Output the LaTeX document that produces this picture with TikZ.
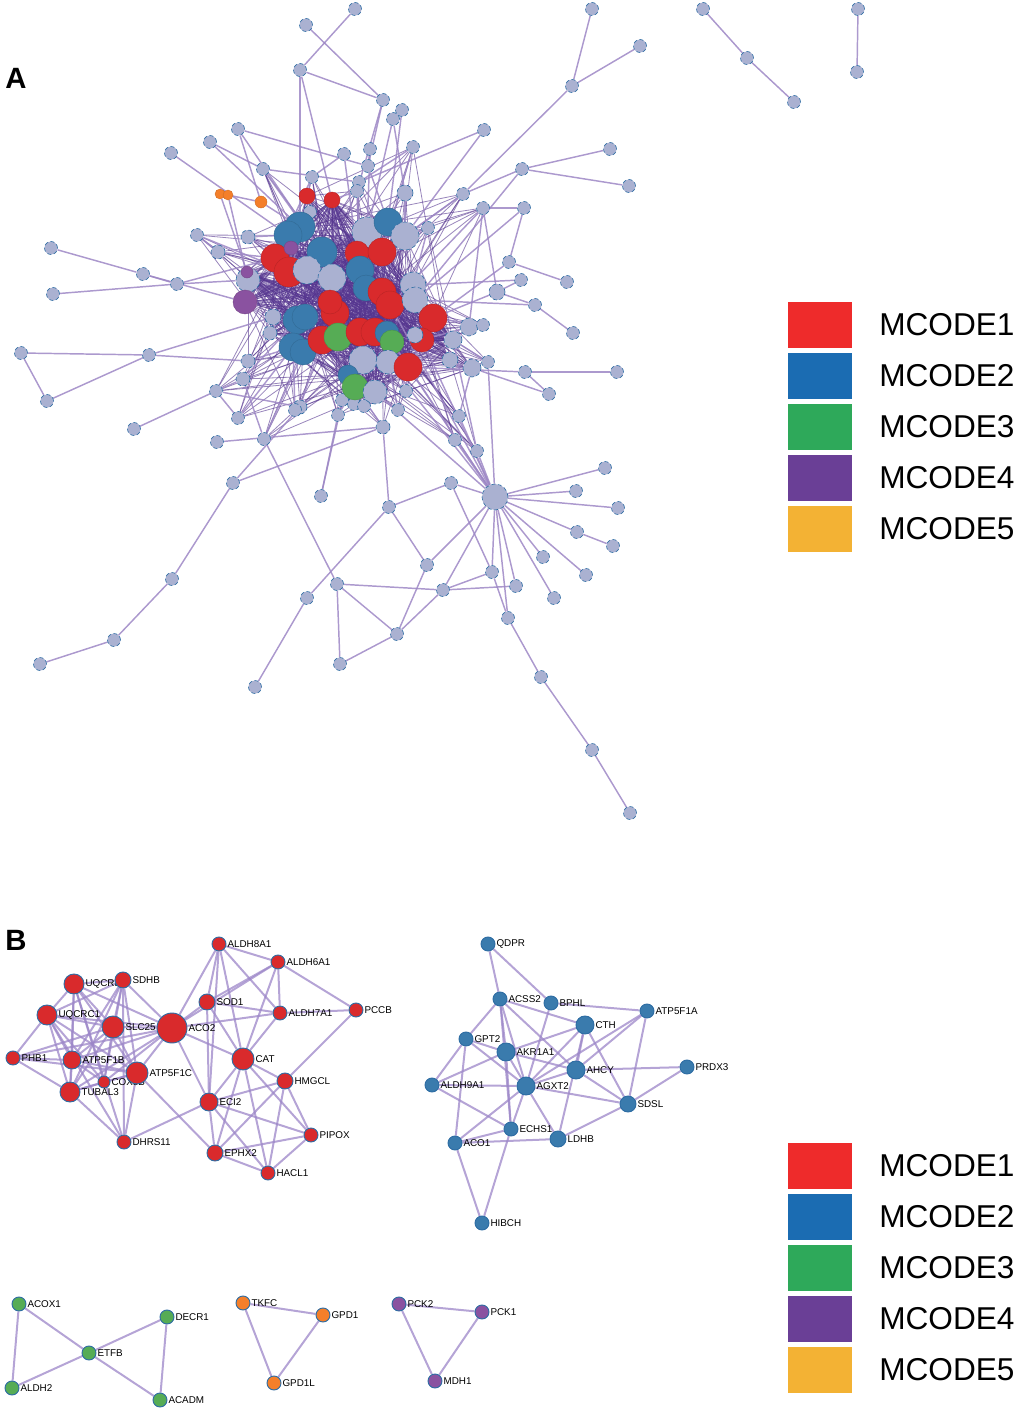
\documentclass[tikz,border=0pt]{standalone}
\usepackage{fontspec}
\setmainfont{Liberation Sans}
\usetikzlibrary{positioning}
\pgfdeclarelayer{edges}
\pgfsetlayers{edges,main}
\definecolor{nred}{HTML}{D92A2C}
\definecolor{nblue}{HTML}{3A7BAD}
\definecolor{ngreen}{HTML}{56AC55}
\definecolor{npurple}{HTML}{8A52A0}
\definecolor{norange}{HTML}{F47F2A}
\definecolor{nlight}{HTML}{AAB1D1}
\definecolor{nrim}{HTML}{2D6CA3}
\definecolor{ledge}{HTML}{9D87C5}
\definecolor{cedge}{HTML}{55358F}
\definecolor{bedge}{HTML}{9C86C8}
\definecolor{lred}{HTML}{EE2B2B}
\definecolor{lblue}{HTML}{1B6CB2}
\definecolor{lgreen}{HTML}{2EA95A}
\definecolor{lpurple}{HTML}{6A3F96}
\definecolor{lorange}{HTML}{F3B234}
\tikzset{
  sz/.style={minimum size={1.5*#1pt}},
  gene/.style={circle, inner sep=0pt, fill=#1, draw=#1!85!black, line width=0.3pt},
  cred/.style={gene=nred},
  cblue/.style={gene=nblue},
  cgreen/.style={gene=ngreen},
  cpurple/.style={gene=npurple},
  corange/.style={gene=norange},
  faint/.style={circle, inner sep=0pt, fill=nlight, draw=nrim, line width=0.45pt, densely dashed},
  member/.style={circle, inner sep=0pt, fill=#1, draw=nrim, line width=0.7pt},
  link/.style={draw=ledge, line width=1.1pt, opacity=0.85},
  core link/.style={draw=cedge, line width=0.6pt, opacity=0.6},
  blink/.style={draw=bedge, line width=1.5pt, opacity=0.75},
  tag/.style={font=\fontsize{7.4}{8}\selectfont, inner sep=0.6pt},
  legbox/.style={minimum width=48.75pt, minimum height=35pt, inner sep=0pt, draw=white, line width=0.5pt},
  legtext/.style={font=\fontsize{23.7}{28}\selectfont, inner sep=0pt},
  panel/.style={font=\bfseries\fontsize{22}{24}\selectfont, inner sep=0pt},
}

\begin{document}
\begin{tikzpicture}[x=0.75pt, y=-0.75pt]
  \useasboundingbox (0,0) rectangle (1020,1413);

  % panel A
  \node[panel] (labA) at (16,78) {A};

  \foreach \n/\x/\y/\r in {p1/355/9/6.5, p2/306/25/6.5, p3/300/70/6.5, p4/383/100/6.5,
      p5/402/110/6.5, p6/393/119/6.5, p7/238/129/6.5, p8/210/142/6.5, p9/171/153/6.5,
      p10/263/169/6.5, p11/344/154/6.5, p12/370/149/6.5, p13/413/147/6.5, p14/484/130/6.5,
      p15/368/166/6.5, p16/312/177/6.5, p17/359/182/6.5, p18/357/191/6.5, p19/405/193/8,
      p20/463/194/6.5, p21/483/208/6.5, p22/310/212/6.5, p23/197/235/6.5, p24/248/237/7,
      p25/218/252/7, p26/51/248/6.5, p27/143/274/6.5, p28/177/284/6.5, p29/53/294/6.5,
      p30/428/228/6.5, p31/592/9/6.5, p32/640/46/6.5, p33/572/86/6.5, p34/703/9/6.5,
      p35/747/58/6.5, p36/794/102/6.5, p37/858/9/6.5, p38/857/72/6.5, p40/610/149/6.5,
      p41/522/169/6.5, p42/629/186/6.5, p45/524/208/6.5, p46/509/262/6.5, p47/567/282/6.5,
      p48/521/280/6.5, p49/497/292/8, p50/535/305/6.5, p51/573/333/6.5, p52/469/327/9,
      p53/483/325/6.5, p54/21/353/6.5, p55/149/355/6.5, p56/47/401/6.5, p57/134/429/6.5,
      p58/216/391/6.5, p59/243/379/7, p60/248/361/7, p61/238/418/6.5, p62/217/442/6.5,
      p63/264/439/6.5, p64/300/407/7, p65/233/483/6.5, p66/321/496/6.5, p67/383/427/7,
      p68/338/415/6.5, p69/398/410/6.5, p70/406/391/6.5, p71/389/507/6.5, p72/451/483/6.5,
      p73/427/565/6.5, p74/337/584/6.5, p75/307/598/6.5, p76/443/590/6.5, p77/397/634/6.5,
      p78/340/664/6.5, p79/255/687/6.5, p80/172/579/6.5, p81/114/640/6.5, p82/40/664/6.5,
      p83/492/572/6.5, p84/459/416/6.5, p85/455/440/6.5, p86/477/451/6.5, p87/617/372/6.5,
      p88/525/372/6.5, p89/549/394/6.5, p90/605/468/6.5, p91/576/491/6.5, p92/618/508/6.5,
      p93/577/532/6.5, p94/613/546/6.5, p95/543/557/6.5, p96/586/575/6.5, p97/554/598/6.5,
      p98/516/586/6.5, p99/508/618/6.5, p100/541/677/6.5, p101/592/750/6.5, p102/630/813/6.5,
      p104/488/362/6.5, p108/354/404/6.5, p109/364/406/6.5, p110/342/400/6.5, p111/295/410/6.5,
      hub/495/497/13}
    \node[faint, sz=\r] (\n) at (\x,\y) {};

  \node[corange, sz=5] (o1) at (220,194) {};
  \node[corange, sz=5] (o2) at (228,195) {};
  \node[corange, sz=6] (o3) at (261,202) {};

  \foreach \x/\y/\s/\r [count=\i] in {307/196/cred/8, 332/200/cred/8, 300/227/cblue/15,
      288/235/cblue/14, 367/232/faint/15, 388/222/cblue/14, 405/236/faint/14, 275/258/cred/14,
      289/272/cred/15, 291/248/cpurple/7, 322/252/cblue/15, 307/270/faint/14, 332/278/faint/14,
      357/253/cred/12, 382/252/cred/14, 360/270/cblue/14, 366/288/cblue/13, 382/292/cred/14,
      390/305/cred/14, 413/285/faint/13, 415/300/faint/13, 248/280/faint/12, 247/272/cpurple/6,
      245/302/cpurple/12, 297/320/cblue/14, 305/317/cblue/13, 335/313/cred/14, 330/302/cred/12,
      293/347/cblue/14, 303/352/cblue/13, 322/340/cred/14, 338/337/cgreen/14, 360/332/cred/14,
      375/332/cred/14, 387/333/cblue/12, 392/342/cgreen/12, 433/318/cred/14, 422/340/cred/12,
      415/335/faint/8, 363/360/faint/14, 388/362/faint/12, 408/367/cred/14, 348/375/cblue/10,
      355/387/cgreen/13, 375/392/faint/12, 273/317/faint/8, 270/333/faint/7, 453/340/faint/9,
      450/360/faint/8, 472/368/faint/9}
    \node[\s, sz=\r] (c\i) at (\x,\y) {};

  \begin{pgfonlayer}{edges}
    \foreach \i in {1,...,50}
      \foreach \j in {1,...,50} {
        \pgfmathtruncatemacro\k{mod(\i*\j+3*\i+\j,3)}
        \ifnum\i<\j \ifnum\k=0 \draw[core link] (c\i) -- (c\j); \fi\fi
      }
    \foreach \p [count=\m] in {p16,p17,p18,p19,p22,p24,p25,p30,p59,p60,p61,p64,p67,p68,
        p69,p70,p84,p85,p86,p104,p108,p109,p110,p111,p20,p21,p13,p10,p23,p58,p63,p52,p53}
      \foreach \i in {1,...,50} {
        \pgfmathtruncatemacro\k{mod(\m*7+\i*3,8)}
        \ifnum\k=0 \draw[core link] (\p) -- (c\i); \fi
      }
    \foreach \a/\b in {p1/p3, p2/p4, p3/p4, p3/c3, p3/c2, p4/p18, p4/p15, p5/c6, p6/c5, p6/p19,
        p7/p15, p7/c11, p8/p10, p8/c3, p9/c4, p10/p17, p10/c11, p11/p16, p11/c14, p12/p15,
        p12/c5, p13/c15, p13/p17, p14/p17, p14/c7, p15/c6, p16/c8, p17/c14, p18/c16, p19/c7,
        p20/p33, p20/p41, p20/c7, p20/c15, p21/p45, p21/p49, p21/p52, p21/c19, p22/c9, p23/c9,
        p23/p25, p24/c4, p24/c12, p25/c8, p26/p27, p27/p28, p27/c24, p28/p29, p28/c22, p28/c8,
        p30/c7, p30/c20, p31/p33, p32/p33, p34/p35, p35/p36, p37/p38, p40/p41, p42/p41, p41/c21,
        p45/p46, p45/c21, p46/p47, p46/c37, p48/p49, p48/c20, p49/c37, p49/p50, p50/p51, p50/c21,
        p52/c38, p52/p53, p53/c37, p54/p55, p54/p56, p56/p55, p55/p60, p55/c46, p57/p58, p58/p59,
        p58/p64, p58/p61, p59/c25, p59/p63, p60/c29, p61/c29, p62/p67, p63/p74, p63/c30, p64/c31,
        p65/p67, p65/p64, p65/p80, p80/p81, p81/p82, p66/p68, p66/c43, p67/c44, p67/p71, p68/c44,
        p69/c41, p70/c42, p71/p72, p71/p73, p71/p75, p72/hub, p72/p83, p73/p77, p73/hub, p74/p76,
        p74/p77, p74/p78, p78/p77, p75/p79, p76/p77, p76/p83, p76/p98, p76/hub, p83/hub, p83/p99,
        p99/hub, p99/p100, p100/p101, p101/p102, p84/c50, p84/hub, p85/hub, p86/hub, p86/c48,
        p87/p88, p88/p89, p88/c42, p89/c50, p90/hub, p91/hub, p92/hub, p93/hub, p93/p94, p95/hub,
        p96/hub, p97/hub, p98/hub, p104/c48, p104/hub, p108/c44, p109/c45, p110/c43, p111/c29,
        hub/c42, hub/c41, hub/c45, hub/c38, hub/c36, hub/c19, o1/o2, o2/o3, o1/c23, o2/c22,
        o3/c3, p7/o3, c1/p16, c2/p18}
      \draw[link] (\a) -- (\b);
  \end{pgfonlayer}

  \foreach \c [count=\i] in {lred,lblue,lgreen,lpurple,lorange} {
    \node[legbox, fill=\c] (legA\i) at (819.5,{274+51*\i}) {};
    \node[legtext, right=20pt of legA\i] (legAt\i) {MCODE\i};
  }

  % panel B
  \node[panel] (labB) at (16,940) {B};

  \node[member=nred, sz=7, label={[tag]right:ALDH8A1}] (aldh8a1) at (219,944) {};
  \node[member=nred, sz=7, label={[tag]right:ALDH6A1}] (aldh6a1) at (278,962) {};
  \node[member=nred, sz=10, label={[tag]right:UQCRB}] (uqcr) at (74,984) {};
  \node[member=nred, sz=8, label={[tag]right:SDHB}] (sdhb) at (123,980) {};
  \node[member=nred, sz=10, label={[tag]right:UQCRC1}] (uqcrc1) at (47,1015) {};
  \node[member=nred, sz=11, label={[tag]right:SLC25}] (slc25) at (113,1027) {};
  \node[member=nred, sz=15, label={[tag]right:ACO2}] (aco2) at (172,1028) {};
  \node[member=nred, sz=8, label={[tag]right:SOD1}] (sod1) at (207,1002) {};
  \node[member=nred, sz=7, label={[tag]right:ALDH7A1}] (aldh7a1) at (280,1013) {};
  \node[member=nred, sz=7, label={[tag]right:PCCB}] (pccb) at (356,1010) {};
  \node[member=nred, sz=7, label={[tag]right:PHB1}] (phb1) at (13,1058) {};
  \node[member=nred, sz=9, label={[tag]right:ATP5F1B}] (atp5f1b) at (72,1060) {};
  \node[member=nred, sz=6, label={[tag]right:COX5B}] (cox) at (104,1082) {};
  \node[member=nred, sz=11, label={[tag]right:ATP5F1C}] (atp5f1c) at (137,1073) {};
  \node[member=nred, sz=10, label={[tag]right:TUBAL3}] (tubal3) at (70,1092) {};
  \node[member=nred, sz=7, label={[tag]right:DHRS11}] (dhrs11) at (124,1142) {};
  \node[member=nred, sz=11, label={[tag]right:CAT}] (cat) at (243,1059) {};
  \node[member=nred, sz=8, label={[tag]right:HMGCL}] (hmgcl) at (285,1081) {};
  \node[member=nred, sz=9, label={[tag]right:ECI2}] (eci2) at (209,1102) {};
  \node[member=nred, sz=7, label={[tag]right:PIPOX}] (pipox) at (311,1135) {};
  \node[member=nred, sz=8, label={[tag]right:EPHX2}] (ephx2) at (215,1153) {};
  \node[member=nred, sz=7, label={[tag]right:HACL1}] (hacl1) at (268,1173) {};

  \node[member=nblue, sz=7, label={[tag]right:QDPR}] (qdpr) at (488,944) {};
  \node[member=nblue, sz=7, label={[tag]right:ACSS2}] (acss2) at (500,999) {};
  \node[member=nblue, sz=7, label={[tag]right:BPHL}] (bphl) at (551,1003) {};
  \node[member=nblue, sz=7, label={[tag]right:ATP5F1A}] (atp5f1a) at (647,1011) {};
  \node[member=nblue, sz=9, label={[tag]right:CTH}] (cth) at (585,1025) {};
  \node[member=nblue, sz=7, label={[tag]right:GPT2}] (gpt2) at (466,1039) {};
  \node[member=nblue, sz=9, label={[tag]right:AKR1A1}] (akr1a1) at (506,1052) {};
  \node[member=nblue, sz=9, label={[tag]right:AHCY}] (ahcy) at (576,1070) {};
  \node[member=nblue, sz=7, label={[tag]right:PRDX3}] (prdx3) at (687,1067) {};
  \node[member=nblue, sz=7, label={[tag]right:ALDH9A1}] (aldh9a1) at (432,1085) {};
  \node[member=nblue, sz=9, label={[tag]right:AGXT2}] (agxt2) at (526,1086) {};
  \node[member=nblue, sz=8, label={[tag]right:SDSL}] (sdsl) at (628,1104) {};
  \node[member=nblue, sz=7, label={[tag]right:ECHS1}] (echs1) at (511,1129) {};
  \node[member=nblue, sz=8, label={[tag]right:LDHB}] (ldhb) at (558,1139) {};
  \node[member=nblue, sz=7, label={[tag]right:ACO1}] (aco1) at (455,1143) {};
  \node[member=nblue, sz=7, label={[tag]right:HIBCH}] (hibch) at (482,1223) {};

  \node[member=ngreen, sz=7, label={[tag]right:ACOX1}] (acox1) at (19,1304) {};
  \node[member=ngreen, sz=7, label={[tag]right:DECR1}] (decr1) at (167,1317) {};
  \node[member=ngreen, sz=7, label={[tag]right:ETFB}] (etfb) at (89,1353) {};
  \node[member=ngreen, sz=7, label={[tag]right:ALDH2}] (aldh2) at (12,1388) {};
  \node[member=ngreen, sz=7, label={[tag]right:ACADM}] (acadm) at (160,1400) {};

  \node[member=norange, sz=7, label={[tag]right:TKFC}] (tkfc) at (243,1303) {};
  \node[member=norange, sz=7, label={[tag]right:GPD1}] (gpd1) at (323,1315) {};
  \node[member=norange, sz=7, label={[tag]right:GPD1L}] (gpd1l) at (274,1383) {};

  \node[member=npurple, sz=7, label={[tag]right:PCK2}] (pck2) at (399,1304) {};
  \node[member=npurple, sz=7, label={[tag]right:PCK1}] (pck1) at (482,1312) {};
  \node[member=npurple, sz=7, label={[tag]right:MDH1}] (mdh1) at (435,1381) {};

  \begin{pgfonlayer}{edges}
    \foreach \a/\b in {uqcr/sdhb, uqcr/uqcrc1, uqcr/slc25, uqcr/atp5f1b, uqcr/tubal3,
        uqcr/atp5f1c, uqcr/aco2, uqcr/cox, uqcr/dhrs11, sdhb/uqcrc1, sdhb/slc25, sdhb/atp5f1b,
        sdhb/tubal3, sdhb/atp5f1c, sdhb/aco2, sdhb/dhrs11, sdhb/cox, uqcrc1/slc25, uqcrc1/phb1,
        uqcrc1/atp5f1b, uqcrc1/tubal3, uqcrc1/cox, uqcrc1/atp5f1c, uqcrc1/aco2, uqcrc1/dhrs11,
        slc25/phb1, slc25/atp5f1b, slc25/tubal3, slc25/cox, slc25/atp5f1c, slc25/aco2,
        phb1/atp5f1b, phb1/tubal3, phb1/atp5f1c, phb1/aco2, atp5f1b/tubal3, atp5f1b/cox,
        atp5f1b/atp5f1c, atp5f1b/aco2, tubal3/cox, tubal3/atp5f1c, tubal3/aco2, tubal3/dhrs11,
        cox/atp5f1c, cox/aco2, atp5f1c/aco2, atp5f1c/dhrs11, atp5f1c/ephx2, dhrs11/eci2,
        aco2/sod1, aco2/aldh7a1, aco2/aldh6a1, aco2/cat, aco2/eci2, aco2/aldh8a1,
        aldh8a1/aldh6a1, aldh8a1/aldh7a1, aldh8a1/cat, aldh8a1/eci2, aldh8a1/sod1,
        aldh6a1/sod1, aldh6a1/aldh7a1, aldh6a1/cat, aldh6a1/pccb, sod1/aldh7a1, sod1/cat,
        sod1/eci2, aldh7a1/pccb, aldh7a1/cat, pccb/hmgcl, cat/hmgcl, cat/eci2, cat/ephx2,
        cat/hacl1, cat/pipox, hmgcl/eci2, hmgcl/ephx2, hmgcl/hacl1, hmgcl/pipox, eci2/ephx2,
        eci2/hacl1, eci2/pipox, ephx2/pipox, ephx2/hacl1, hacl1/pipox,
        qdpr/acss2, qdpr/bphl, acss2/gpt2, acss2/akr1a1, acss2/agxt2, acss2/echs1, acss2/cth,
        acss2/ahcy, bphl/atp5f1a, bphl/agxt2, cth/akr1a1, cth/agxt2, cth/ahcy, cth/ldhb,
        cth/sdsl, atp5f1a/ahcy, atp5f1a/sdsl, atp5f1a/agxt2, gpt2/aldh9a1, gpt2/akr1a1,
        gpt2/agxt2, gpt2/aco1, akr1a1/aldh9a1, akr1a1/ahcy, akr1a1/agxt2, akr1a1/echs1,
        ahcy/prdx3, ahcy/sdsl, ahcy/agxt2, aldh9a1/agxt2, aldh9a1/echs1, agxt2/sdsl,
        agxt2/ldhb, agxt2/aco1, agxt2/echs1, sdsl/prdx3, sdsl/ldhb, echs1/aco1, echs1/hibch,
        aco1/ldhb, aco1/hibch,
        acox1/etfb, acox1/aldh2, etfb/aldh2, etfb/decr1, etfb/acadm, decr1/acadm,
        tkfc/gpd1, tkfc/gpd1l, gpd1/gpd1l, pck2/pck1, pck2/mdh1, pck1/mdh1}
      \draw[blink] (\a) -- (\b);
  \end{pgfonlayer}

  \foreach \c [count=\i] in {lred,lblue,lgreen,lpurple,lorange} {
    \node[legbox, fill=\c] (legB\i) at (819.5,{1115+51*\i}) {};
    \node[legtext, right=20pt of legB\i] (legBt\i) {MCODE\i};
  }
\end{tikzpicture}
\end{document}
